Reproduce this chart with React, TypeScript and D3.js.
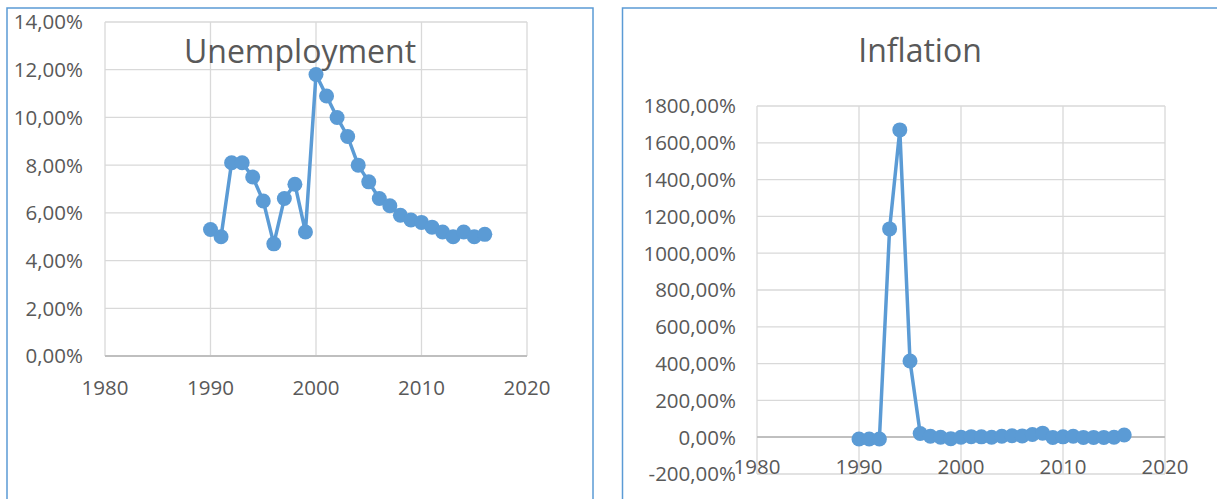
import React from "react";
import * as d3 from "d3";

const years = [1990,1991,1992,1993,1994,1995,1996,1997,1998,1999,2000,2001,2002,2003,2004,2005,2006,2007,2008,2009,2010,2011,2012,2013,2014,2015,2016];
const unemployment = [0.053,0.050,0.081,0.081,0.075,0.065,0.047,0.066,0.072,0.052,0.118,0.109,0.100,0.092,0.080,0.073,0.066,0.063,0.059,0.057,0.056,0.054,0.052,0.050,0.052,0.050,0.051];
const inflation = [-0.1,-0.1,-0.1,11.32,16.7,4.14,0.2,0.05,0.0,-0.08,0.0,0.03,0.02,0.0,0.05,0.08,0.07,0.15,0.22,-0.02,0.02,0.05,-0.01,-0.01,-0.01,0.0,0.12];
const xTicks = [1980,1990,2000,2010,2020];
const unempTicks = [0,0.02,0.04,0.06,0.08,0.10,0.12,0.14];
const inflTicks = [-2,0,2,4,6,8,10,12,14,16,18];

const loc = d3.formatLocale({decimal: ",", thousands: "", grouping: [3], currency: ["", ""], minus: "-"} as any);
const pct = loc.format(".2%");

const BLUE = "#5B9BD5";
const GRID = "#D9D9D9";
const AXIS = "#BFBFBF";
const TEXT = "#595959";
const FONT = "'Open Sans', 'Noto Sans', sans-serif";

function Panel({x0, x1, y0, y1, yDomain, yTicks, values, labelRight, xLabelY, title, titleX, titleY}: any) {
  const x = d3.scaleLinear().domain([1980, 2020]).range([x0, x1]);
  const y = d3.scaleLinear().domain(yDomain).range([y1, y0]);
  const line = d3.line<number>().x((_, i) => x(years[i])).y((d) => y(d));
  return (
    <g>
      {yTicks.map((t: number) => (
        <line key={"h" + t} x1={x0} x2={x1} y1={y(t)} y2={y(t)} stroke={t === 0 ? AXIS : GRID} strokeWidth={t === 0 ? 1.5 : 1.3} />
      ))}
      {xTicks.map((t) => (
        <line key={"v" + t} x1={x(t)} x2={x(t)} y1={y0} y2={y1} stroke={GRID} strokeWidth={1.3} />
      ))}
      {yTicks.map((t: number) => (
        <line key={"h0" + t} x1={x0} x2={x1} y1={y(0)} y2={y(0)} stroke={AXIS} strokeWidth={1.5} />
      ))}
      {yTicks.map((t: number) => (
        <text key={"yl" + t} x={labelRight} y={y(t)} dy="0.36em" textAnchor="end" fontSize={20.5} fill={TEXT} fontFamily={FONT}>{pct(t)}</text>
      ))}
      {xTicks.map((t) => (
        <text key={"xl" + t} x={x(t)} y={xLabelY} dy="0.36em" textAnchor="middle" fontSize={20.5} fill={TEXT} fontFamily={FONT}>{t}</text>
      ))}
      <text x={titleX} y={titleY} textAnchor="middle" fontSize={32} fill={TEXT} fontFamily={FONT}>{title}</text>
      <path d={line(values) || ""} fill="none" stroke={BLUE} strokeWidth={3.5} strokeLinejoin="round" />
      {values.map((v: number, i: number) => (
        <circle key={"c" + i} cx={x(years[i])} cy={y(v)} r={7.5} fill={BLUE} />
      ))}
    </g>
  );
}

export default function App() {
  return (
    <svg width={1217} height={499} style={{position: "absolute", left: 0, top: 0, background: "#fff"}}>
      <rect x={0} y={0} width={1217} height={499} fill="#fff" />
      <rect x={7} y={8} width={586} height={520} fill="#fff" stroke={BLUE} strokeWidth={1.5} />
      <rect x={622.5} y={8} width={620} height={520} fill="#fff" stroke={BLUE} strokeWidth={1.5} />
      <Panel x0={105} x1={527} y0={22} y1={356} yDomain={[0, 0.14]} yTicks={unempTicks} values={unemployment}
        labelRight={83} xLabelY={388} title="Unemployment" titleX={300} titleY={63} />
      <Panel x0={757} x1={1165} y0={106} y1={474} yDomain={[-2, 18]} yTicks={inflTicks} values={inflation}
        labelRight={736} xLabelY={467} title="Inflation" titleX={920} titleY={62} />
    </svg>
  );
}
